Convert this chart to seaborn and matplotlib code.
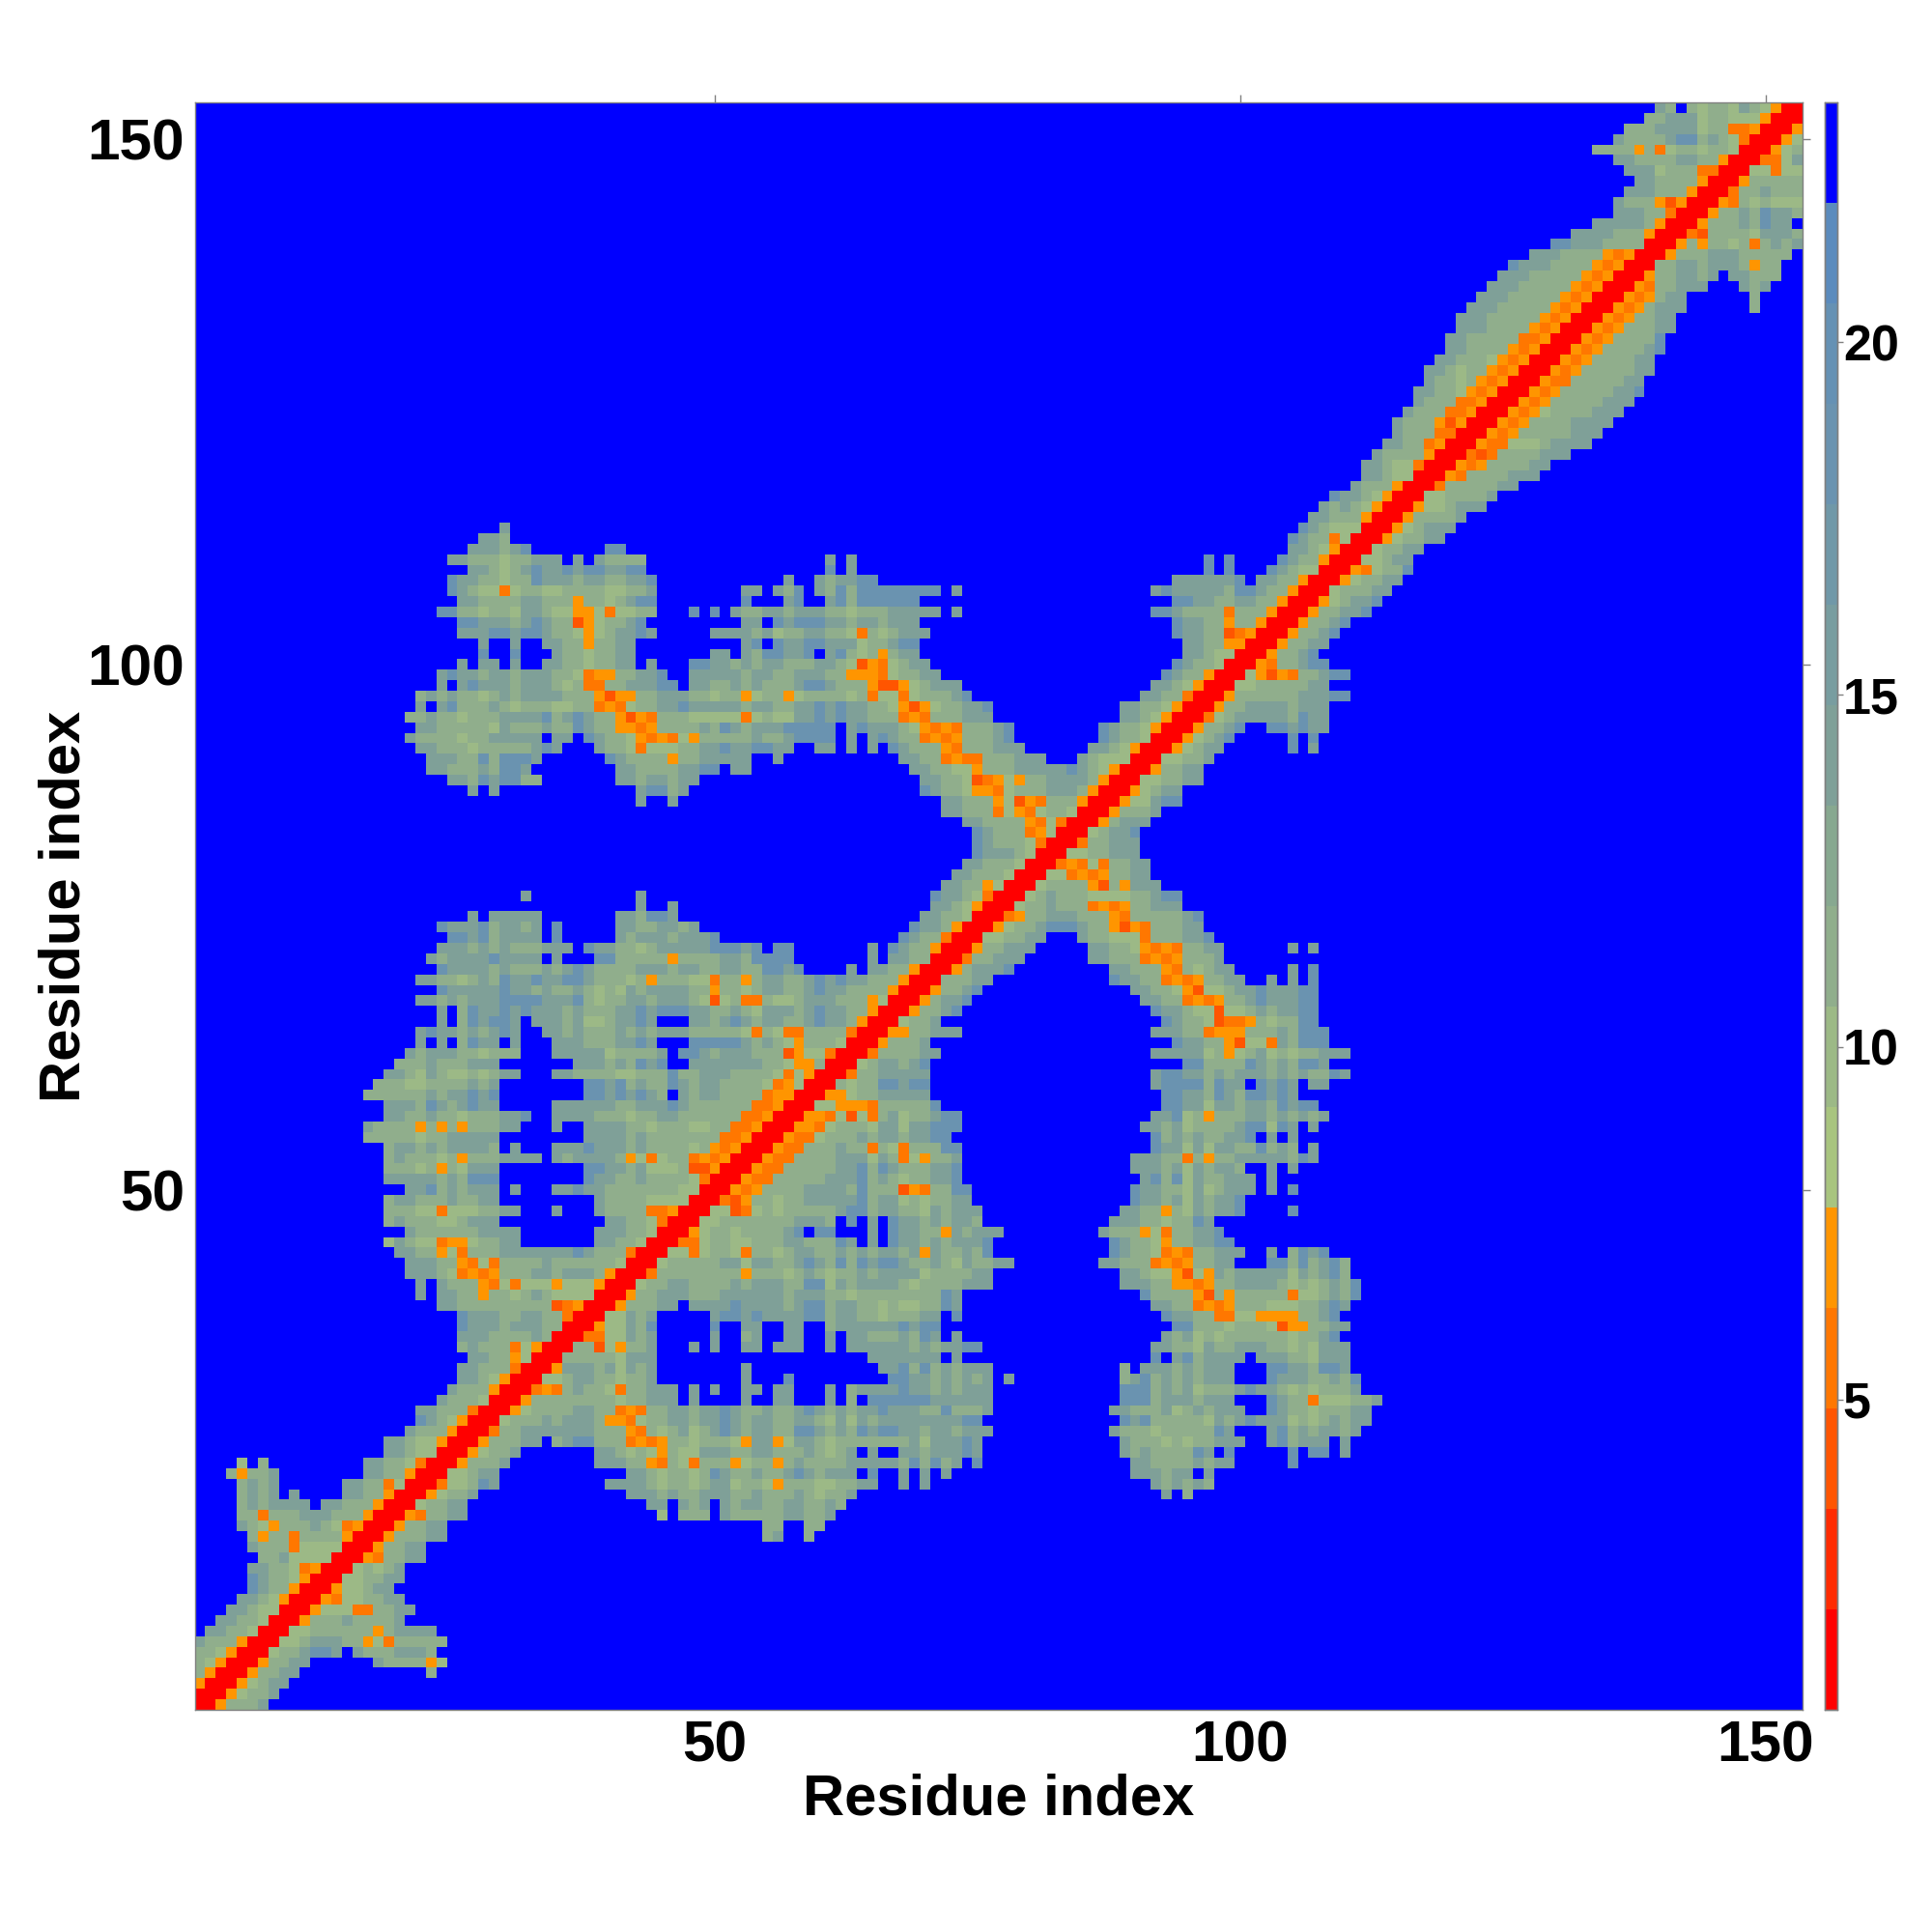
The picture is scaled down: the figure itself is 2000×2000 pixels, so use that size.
import numpy as np
import matplotlib
matplotlib.use("Agg")
import matplotlib.pyplot as plt
from matplotlib.colors import ListedColormap
import seaborn as sns

sns.set_theme(style="white")
plt.rcParams['font.family'] = ['Liberation Sans', 'DejaVu Sans']

N_RES = 153
# distance classes (Angstrom, middle of each colourbar band)
CLASS_VALUES = {'R': 1.3, 'a': 2.7, 'b': 4.2, 'c': 5.6, 'd': 7.0,
                'g': 9.9, 'h': 11.3, 'i': 14.1, 'j': 18.4, '.': 22.7}
BAND_COLORS = ["#ff0000", "#ff2b00", "#ff5500", "#ff7700", "#ff9500",
               "#a8c47f", "#9cb986", "#90ae8c", "#87a890", "#7fa098",
               "#789da0", "#7098a8", "#6a93b0", "#6591b4", "#5b8bbd", "#0000ff"]
CBAR_TICKS = [5, 10, 15, 20]
AXIS_TICKS = [50, 100, 150]

# lower triangle only: (residue row, first column, classes along the row)
TAIL = [
    (1, 1, "R"), (2, 1, "RR"), (3, 1, "dRR"), (4, 1, "hdRR"), (5, 1, "hgdRR"), (6, 1, "hhgdRR"),
    (7, 1, "ihhhdRR"), (8, 2, "iihhgRR"), (9, 3, "iihhgRR"), (10, 4, "iihggRR"), (11, 5, "iihgdRR"),
    (12, 6, "jihhdRR"), (13, 6, "jihhgdRR"), (14, 6, "iihhgcdRR"), (15, 7, "hhiggggRR"),
    (16, 6, "ihhhcggggRR"), (17, 6, "hdhhchhhhdRR"), (18, 5, "ihgdhhhihgcdRR"), (19, 5, "hhchhhiiihhhdRR"),
    (20, 5, "hihiiii"), (20, 13, "iihhhdRR"),
    (21, 5, "hihi"), (21, 10, "i"), (21, 15, "iihhdRR"),
    (22, 5, "hihi"), (22, 15, "iihhcgRR"),
    (23, 4, "hdhhi"), (23, 17, "iihhdRR"),
    (24, 5, "g"), (24, 7, "h"), (24, 17, "iihhgcRR"),
    (25, 19, "iihggRR"), (26, 19, "iihggdRR"), (27, 21, "ihhhdRR"), (28, 22, "jihgdRR"),
    (29, 22, "iihhhcRR"), (30, 24, "ihhhgRR"), (31, 25, "ihhhdRR"), (32, 26, "iihgdRR"),
    (33, 26, "iihhhcRR"), (34, 27, "iihhdgRR"), (35, 26, "hihhhcgdRR"), (36, 26, "iiihhhhihRR"),
    (37, 26, "jiiihiiihhRR"), (38, 26, "jiiihhiihhcRR"), (39, 24, "iihhhhhhhhhbcdRR"),
]

CLUSTER = [
    (40, 22, "i"), (40, 24, "iihhdhhghihggggRR"),
    (41, 22, "i"), (41, 24, "ihhhdcgcgggdgggdRR"),
    (42, 21, "iiihgcdcdhhhiihiiihdRR"), (43, 21, "iiihhdcgchhhhihhhhhhgRR"),
    (44, 20, "iihhdgchhhiiiiiiijihhhcRR"),
    (45, 19, "gihggcddghhii"), (45, 39, "iihhgRR"),
    (46, 21, "ihhhhhhiiii"), (46, 39, "iiihhgRR"),
    (47, 19, "hihhhgghiii"), (47, 40, "iihhgcRR"),
    (48, 19, "hhhggcggghhii"), (48, 35, "i"), (48, 39, "ihhhhccdRR"),
    (49, 19, "hiihhhihhii"), (49, 39, "ihhhhggggRR"),
    (50, 21, "iijhihiii"), (50, 31, "i"), (50, 35, "iijiihhhhhhhggRR"),
    (51, 19, "iiiiihihjjj"), (51, 38, "jiihhihhhhgcRR"),
    (52, 19, "hhhghdhgiii"), (52, 38, "jjiihiggghbbdRR"),
    (53, 19, "hihhhghdhhhiiii"), (53, 35, "ihiiiihdgcghhcdcdRR"),
    (54, 19, "hiihihiiiih"), (54, 31, "i"), (54, 35, "iiijiiihihhhhghdcdRR"),
    (55, 17, "hhhhhghhiiiii"), (55, 38, "iiiihihhhhhhhccdRR"),
    (56, 17, "ihhhhdhdhdhhhii"), (56, 35, "i"), (56, 38, "iiiihhghhhgghhccdRR"),
    (57, 19, "iihhihhghhhiij"), (57, 35, "iiiihhhghhiihhhhhhccdRR"),
    (58, 19, "iiihjihijii"), (58, 35, "iiiiiihhiiijihhhhhhccdRR"),
    (59, 17, "hhhhhhihiijij"), (59, 38, "jjijijih"), (59, 47, "ihiihhhhcddRR"),
    (60, 18, "hhhgghhhhihi"), (60, 38, "jjijhihhjihiihhhhgcdgRR"),
    (61, 19, "iihgihgghghii"), (61, 35, "iihhhhgghhhjhhiiihhhhgcgdRR"),
    (62, 20, "hhhihhhiii"), (62, 37, "iiihihjij"), (62, 48, "iiiiiiihhgddhRR"),
    (63, 21, "ihiiihhghhh"), (63, 35, "iiiiighhhhi"), (63, 47, "jjihiiihhhbdggcRR"),
    (64, 22, "i"), (64, 24, "i"), (64, 26, "hjii"), (64, 31, "i"), (64, 35, "iiihhhiiji"),
    (64, 48, "jjjjjihihgdhhhgRR"),
    (65, 22, "ijiihihiji"), (65, 34, "iihihhhihihiiihhhhhgchgcchhhhcRR"),
    (66, 24, "i"), (66, 26, "hjijji"), (66, 33, "iiihigghiiji"), (66, 48, "iihijihiihhijiihdRR"),
    (67, 24, "i"), (67, 26, "hjiijijiiihihhhiijijjjiihhihgiiihijiihhdRR"),
    (68, 22, "iihihiiijjjjiiijhghhiihiiihgbghcchgghiiihhhdgRR"),
    (69, 24, "jiiiiijiihihhihghgihiiiihhdhhghiihhijiihhhhdRR"),
    (70, 22, "iihhghihjiijiijjihhhghdhhhggchhdhiihhijijiihhhdRR"),
    (71, 24, "jiiiihihhhihijihhhhiiihiihhiihhjjij"), (71, 63, "i"), (71, 65, "iihhdRR"),
    (72, 23, "ihiiiijiiii"), (72, 35, "i"), (72, 39, "jjhhhhhdhhhhiihjjjj"), (72, 65, "i"), (72, 67, "iihhRR"),
    (73, 24, "iiihihihhhiii"), (73, 38, "jiihhghiiiiijjjij"), (73, 56, "jj"), (73, 65, "i"), (73, 67, "jihhdRR"),
    (74, 25, "jjijhiiii"), (74, 35, "j"), (74, 41, "ihiiihiiij"), (74, 68, "jihhcRR"),
    (75, 24, "jiiijhiihi"), (75, 35, "j"), (75, 41, "iihhiihi"), (75, 69, "jiihdRR"),
    (76, 27, "i"), (76, 29, "iiiii"), (76, 41, "iihjji"), (76, 70, "iihhgRR"),
    (77, 43, "i"), (77, 46, "i"), (77, 71, "iihgdRR"),
    (78, 32, "i"), (78, 43, "i"), (78, 71, "jiihgcRR"),
]

CROSSING = [
    (79, 72, "iihhdgRR"), (80, 73, "iihhhgRR"), (81, 74, "iihhhgRR"), (82, 75, "jiiihgRR"),
    (83, 75, "jihhhgcRR"), (84, 75, "jihhhcdgRR"), (85, 74, "iihhhhdcgcRR"), (86, 72, "iihhhcgdcghhgRR"),
]

WING = [
    (87, 43, "i"), (87, 46, "i"), (87, 72, "iihhhdgbdchhhdRR"),
    (88, 27, "i"), (88, 29, "i"), (88, 43, "ijjhi"), (88, 70, "jihhgddcghhhiiihdRR"),
    (89, 25, "iihjijjhh"), (89, 41, "iihiihii"), (89, 70, "iihhgbcdgdhhiiiihdRR"),
    (90, 23, "iihhhihjji"), (90, 41, "iihhhhiijj"), (90, 52, "ii"), (90, 69, "iihhggdhhhiiiiijihgdRR"),
    (91, 23, "iiihhjhjjji"), (91, 40, "jihhhhdhhiiiii"), (91, 56, "i"), (91, 68, "iihhcdcchhhiii"), (91, 85, "ihgggRR"),
    (92, 22, "iihhhghhhhhiji"), (92, 39, "ihhgcggghhiijiijjii"), (92, 60, "ii"), (92, 63, "i"), (92, 65, "i"),
    (92, 67, "jihhhdchhhiii"), (92, 86, "iihgdRR"),
    (93, 21, "ihhhhghhiiiii"), (93, 35, "ii"), (93, 38, "jihhgdcdcgdhhhhhihhijjjj"), (93, 63, "i"),
    (93, 65, "ijihhcdcdhhhij"), (93, 87, "jihhgRR"),
    (94, 22, "iihhhhhgihhhihhjihhddcdhhhhihjihiiijjjjj"), (94, 63, "ijiiihgdcdchhhij"), (94, 87, "jihhgdRR"),
    (95, 21, "hhihhghhhiiiijhijihhdbdchhhgggggcghggiijijiihhhcdchhhiii"), (95, 89, "iihgdRR"),
    (96, 22, "i"), (96, 24, "ijhhhihghhhgghhcdcghhiijiiiiihiihhiijijiihhgdbdghhiij"), (96, 89, "iihhgdRR"),
    (97, 22, "hihihhghihiiiihhhdbddhhiiihhghhdghhdghhhhghcggcghhhij"), (97, 91, "iihhcRR"),
    (98, 24, "i"), (98, 26, "ijiiihiiihghcchhiiijj"), (98, 48, "iihhihihhhijjihhhdbbdghiii"), (98, 92, "iihgdRR"),
    (99, 24, "ijiihiihiiihhgcddhhiij"), (99, 48, "iiiiihiihhiiihhdddcghhii"), (99, 93, "jihhdRR"),
    (100, 26, "i"), (100, 28, "ii"), (100, 31, "i"), (100, 34, "iihhghhii"), (100, 44, "i"),
    (100, 48, "jjiihihiihhhiihgbdcghii"), (100, 94, "jihhgRR"),
    (101, 28, "j"), (101, 31, "j"), (101, 35, "ihhghhii"), (101, 50, "ii"), (101, 53, "ihjjiij"),
    (101, 61, "ijhghdhii"), (101, 95, "iihggRR"),
    (102, 28, "i"), (102, 31, "i"), (102, 34, "iihhdhhii"), (102, 53, "ij"), (102, 56, "jiijjiiighhijj"),
    (102, 95, "iihhddRR"),
    (103, 26, "iiijjijjihhgdghiiji"), (103, 50, "iiiihighhiihhgchghiii"), (103, 94, "jiihhbcdRR"),
    (104, 26, "jjiiihijihhbdghhij"), (104, 53, "ii"), (104, 56, "jijjjiihiihiii"), (104, 94, "jiihhdhhdRR"),
    (105, 24, "jjhhghhgiihggddgcgghh"), (105, 48, "j"), (105, 50, "j"), (105, 52, "ihhiihiiihhghhhiiiii"),
    (105, 73, "i"), (105, 92, "jjihhhhchhhdRR"),
    (106, 26, "iihhhhiihhhdhhghijj"), (106, 53, "j"), (106, 57, "ij"), (106, 61, "ijhjjjjjj"),
    (106, 94, "jjiihhiihhdRR"),
    (107, 25, "jihggcghhgghhhhgghhi"), (107, 53, "ii"), (107, 56, "ihj"), (107, 60, "ihjhjjjjjjjj"), (107, 73, "i"),
    (107, 92, "ijiiiiihjjihhdRR"),
    (108, 25, "jiihhghhjiiihiihhiij"), (108, 57, "i"), (108, 60, "ihiijj"), (108, 94, "iiiiiij"), (108, 102, "iihhdRR"),
    (109, 27, "iihghijiijijjiijj"), (109, 61, "j"), (109, 63, "i"), (109, 97, "j"), (109, 99, "j"), (109, 103, "jihggRR"),
    (110, 25, "iihhhghhiii"), (110, 37, "i"), (110, 39, "ihhhh"), (110, 61, "i"), (110, 63, "i"), (110, 97, "j"),
    (110, 99, "j"), (110, 104, "jihhdRR"),
    (111, 27, "iiihij"), (111, 40, "jj"), (111, 105, "iihgdRR"),
    (112, 28, "iih"), (112, 105, "jihhcgRR"),
    (113, 30, "i"), (113, 106, "jihgggRR"),
]

HELIX = [
    (114, 107, "iihhhdRR"), (115, 108, "ihihgdRR"), (116, 109, "jiihgdRR"), (117, 111, "ihhhdRR"),
    (118, 112, "iihggRR"), (119, 112, "iihggcRR"), (120, 113, "ihhhhdRR"), (121, 114, "iihhcdRR"),
    (122, 115, "ihhhccRR"), (123, 115, "ihhhdbdRR"), (124, 116, "ihhhccdRR"), (125, 117, "ihhhccdRR"),
    (126, 117, "iihhgdcdRR"), (127, 118, "ihhghdcdRR"), (128, 118, "iihghhdcdRR"), (129, 119, "iihhhgdcdRR"),
    (130, 120, "iihhhhdcdRR"), (131, 120, "iihhhhhccdRR"), (132, 121, "iiihhhhdcdRR"), (133, 121, "iiihhhhhdcdRR"),
    (134, 122, "iiihhhhhdcdRR"), (135, 123, "iiihhhhhdcdRR"), (136, 124, "iiihhhhhdcdRR"), (137, 125, "iiihhhhhdcdRR"),
    (138, 126, "jiiihhhhdcdRR"), (139, 128, "iiihhhhdcdRR"),
]

C_END = [
    (140, 130, "jjiiihhhhRR"), (141, 132, "iiiihhhdRR"), (142, 134, "iiiiihdRR"), (143, 136, "iiihhcRR"),
    (144, 136, "ihhhdbdRR"), (145, 137, "iiihhhdRR"), (146, 138, "iihhhhdRR"), (147, 137, "iiighhhccRR"),
    (148, 136, "iihhhhiihhdRR"), (149, 134, "hhhhdhcghhghhgRR"), (150, 136, "ihhhhijjhihgcRR"),
    (151, 137, "hhhiiiighhccdRR"), (152, 139, "hhiiighhgggdRR"), (153, 140, "ih"), (153, 143, "hghhgihgdRR"),
]

dist = np.full((N_RES, N_RES), CLASS_VALUES['.'])
for part in (TAIL, CLUSTER, CROSSING, WING, HELIX, C_END):
    for row, first, cells in part:
        for k, code in enumerate(cells):
            col = first + k
            dist[row - 1, col - 1] = CLASS_VALUES[code]
            dist[col - 1, row - 1] = CLASS_VALUES[code]

fig = plt.figure(figsize=(20, 20), dpi=100)
ax = fig.add_axes([0.1008, 0.115, 0.832, 0.832])
cax = fig.add_axes([0.9445, 0.115, 0.0065, 0.832])
sns.heatmap(dist, ax=ax, cbar_ax=cax, cmap=ListedColormap(BAND_COLORS), vmin=0.6, vmax=23.4,
            xticklabels=False, yticklabels=False)
ax.invert_yaxis()

grey = "#808080"
ax.set_xticks([t - 0.5 for t in AXIS_TICKS])
ax.set_yticks([t - 0.5 for t in AXIS_TICKS])
ax.set_xticklabels(AXIS_TICKS, fontsize=43.5, fontweight="bold", color="black")
ax.set_yticklabels(AXIS_TICKS, fontsize=43.5, fontweight="bold", color="black", rotation=0)
ax.tick_params(top=True, right=True, bottom=False, left=False, labelbottom=True, labelleft=True,
               length=6, width=1, color=grey, pad=1.5)
ax.set_xlabel("Residue index", fontsize=43, fontweight="bold", color="black", labelpad=0)
ax.set_ylabel("Residue index", fontsize=43, fontweight="bold", color="black", labelpad=-3)
for side in ax.spines.values():
    side.set_visible(True)
    side.set_color(grey)
    side.set_linewidth(1)

cax.set_yticks(CBAR_TICKS)
cax.set_yticklabels(CBAR_TICKS, fontsize=37.5, fontweight="bold", color="black")
cax.tick_params(right=True, left=False, direction="inout", length=8, width=1, color=grey, pad=0.2)
for side in cax.spines.values():
    side.set_visible(True)
    side.set_color(grey)
    side.set_linewidth(1)

fig.savefig("out.png", dpi=100, facecolor="white")
